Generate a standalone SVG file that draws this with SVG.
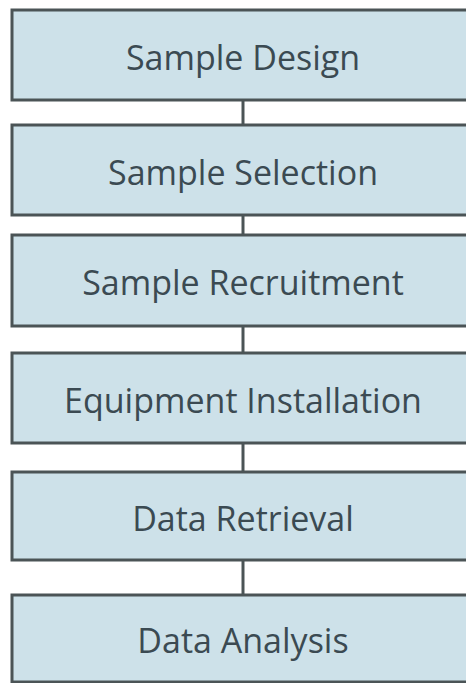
<svg xmlns="http://www.w3.org/2000/svg" width="466" height="683" viewBox="0 0 466 683">
<style>
.box{fill:#cde1e9;stroke:#4b5456;stroke-width:3}
.lbl{font-family:"Open Sans","Liberation Sans",sans-serif;font-size:34px;fill:#3b4a52;text-anchor:middle;dominant-baseline:central}
.conn{stroke:#4b5456;stroke-width:3;fill:none}
</style>
<rect width="466" height="683" fill="#ffffff"/>
<g id="connectors">
<line class="conn" x1="243" y1="100" x2="243" y2="125"/>
<line class="conn" x1="243" y1="215" x2="243" y2="235"/>
<line class="conn" x1="243" y1="326" x2="243" y2="353"/>
<line class="conn" x1="243" y1="443" x2="243" y2="472"/>
<line class="conn" x1="243" y1="560" x2="243" y2="595"/>
</g>
<g id="n1"><rect class="box" x="12" y="10" width="470" height="90"/><text class="lbl" x="243" y="57">Sample Design</text></g>
<g id="n2"><rect class="box" x="12" y="125" width="470" height="90"/><text class="lbl" x="243" y="172">Sample Selection</text></g>
<g id="n3"><rect class="box" x="12" y="235" width="470" height="91"/><text class="lbl" x="243" y="282">Sample Recruitment</text></g>
<g id="n4"><rect class="box" x="12" y="353" width="470" height="90"/><text class="lbl" x="243" y="400">Equipment Installation</text></g>
<g id="n5"><rect class="box" x="12" y="472" width="470" height="88"/><text class="lbl" x="243" y="518">Data Retrieval</text></g>
<g id="n6"><rect class="box" x="12" y="595" width="470" height="87"/><text class="lbl" x="243" y="640">Data Analysis</text></g>
</svg>
